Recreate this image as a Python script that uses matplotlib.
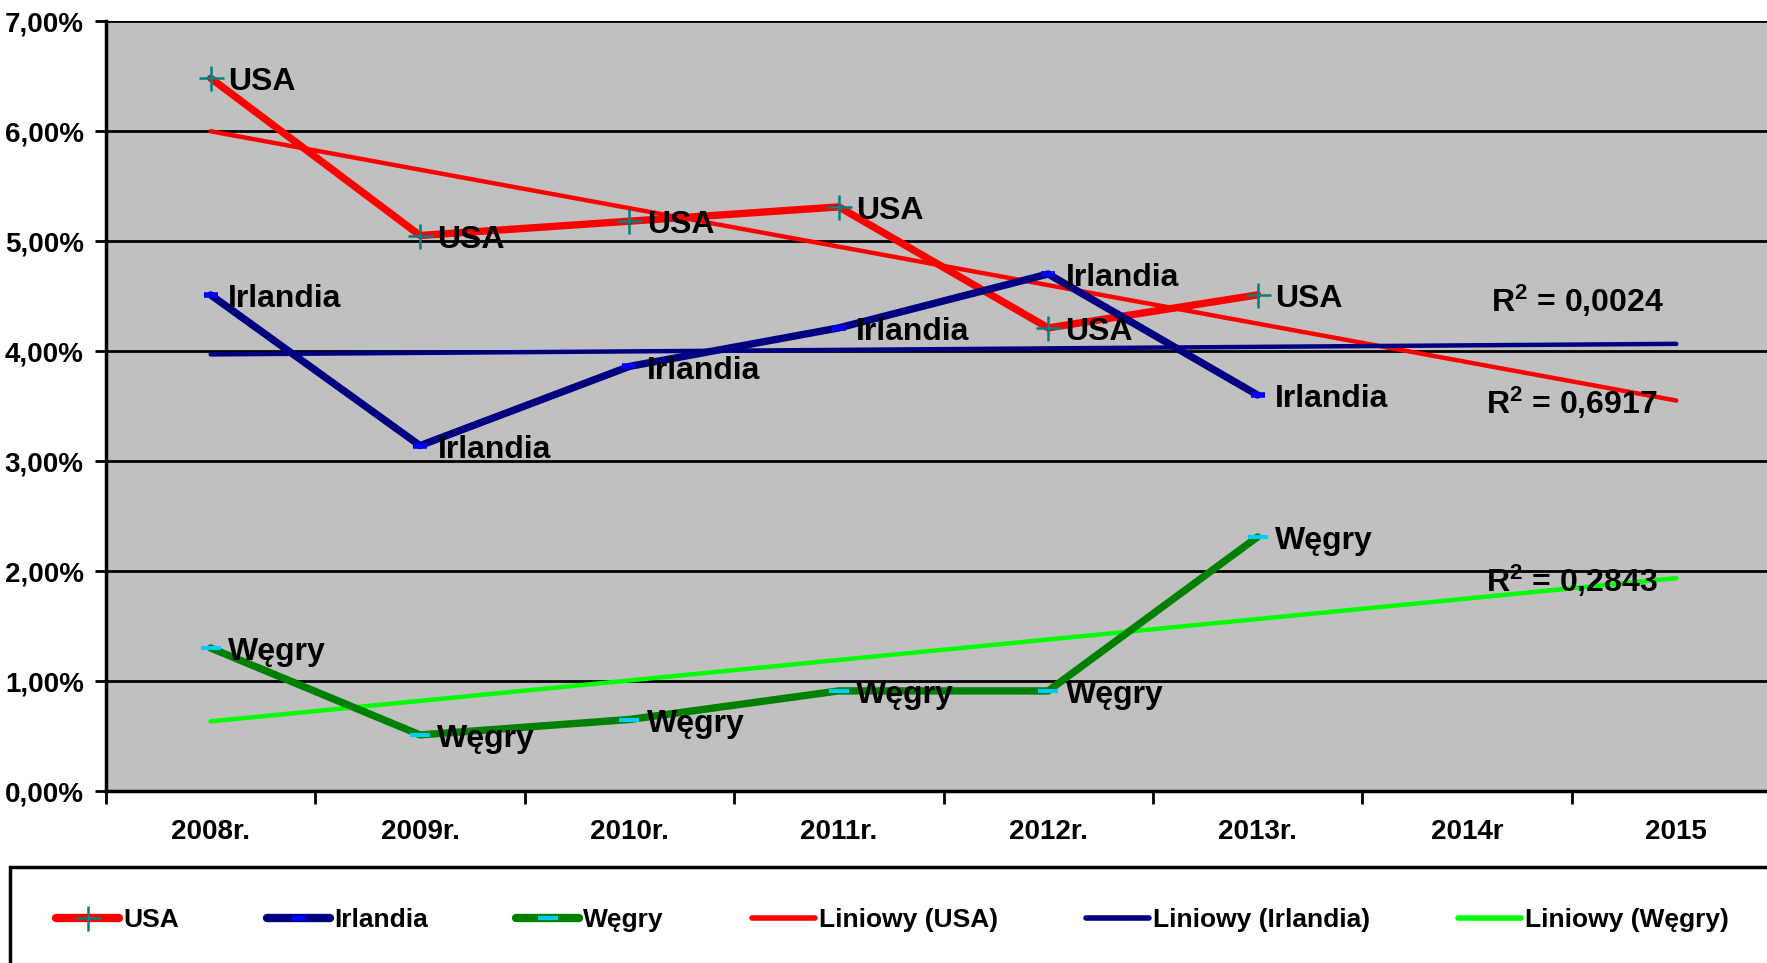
import numpy as np
import matplotlib
matplotlib.use("Agg")
import matplotlib.pyplot as plt
from matplotlib.lines import Line2D
from matplotlib.patches import Rectangle
from matplotlib.ticker import FixedLocator

plt.rcParams['font.family'] = ['Liberation Sans', 'DejaVu Sans']
plt.rcParams['font.weight'] = 'bold'
plt.rcParams['mathtext.fontset'] = 'custom'
plt.rcParams['mathtext.rm'] = 'Liberation Sans:bold'
plt.rcParams['mathtext.bf'] = 'Liberation Sans:bold'
plt.rcParams['mathtext.it'] = 'Liberation Sans:bold'

categories = ['2008r.', '2009r.', '2010r.', '2011r.', '2012r.', '2013r.', '2014r', '2015']
usa = [6.48, 5.05, 5.18, 5.31, 4.21, 4.51]
irlandia = [4.51, 3.14, 3.86, 4.21, 4.70, 3.60]
wegry = [1.30, 0.51, 0.65, 0.91, 0.91, 2.31]
r2_labels = [r'R$^{2}$ = 0,6917', r'R$^{2}$ = 0,0024', r'R$^{2}$ = 0,2843']
series_names = ['USA', 'Irlandia', 'Węgry']

W, H = 1767, 963
fig = plt.figure(figsize=(W / 100, H / 100), dpi=100)
ax = fig.add_axes([106 / W, 1 - 791 / H, (1781 - 106) / W, (791 - 21) / H])
ax.set_facecolor('#C0C0C0')

x_all = np.arange(len(categories))
x_data = np.arange(len(usa))

line_cols = ['#FF0000', '#000080', '#008000']
trend_cols = ['#FF0000', '#000080', '#00FF00']
markers = [dict(marker='+', ms=18, mew=1.8, mec='#008080', mfc='#008080'),
           dict(marker='_', ms=10, mew=4.0, mec='#0000FF', mfc='#0000FF'),
           dict(marker='_', ms=14, mew=3.0, mec='#00CCFF', mfc='#00CCFF')]
data = [usa, irlandia, wegry]

# trend lines (linear fit, Excel "Liniowy")
for vals, col in zip(data, trend_cols):
    k, b = np.polyfit(x_data, vals, 1)
    ax.plot(x_all, k * x_all + b, color=col, lw=3.2, solid_capstyle='round', zorder=3)

for vals, col, mk, name in zip(data, line_cols, markers, series_names):
    ax.plot(x_data, vals, color=col, lw=5.3, solid_capstyle='round',
            solid_joinstyle='round', zorder=4)
    ax.plot(x_data, vals, ls='none', zorder=5, **mk)
    for xi, v in zip(x_data, vals):
        ax.annotate(name, (xi, v), xytext=(12.5, -3), textcoords='offset points',
                    ha='left', va='center', fontsize=23, fontweight='bold', zorder=6)

# R^2 labels
r2_pos = [(6.09, 3.53), (6.115, 4.46), (6.09, 1.91)]
for (xp, yp), t in zip(r2_pos, r2_labels):
    ax.text(xp, yp, t, fontsize=23, fontweight='bold', ha='left', va='center', zorder=6)

ax.set_xlim(-0.5, 7.5)
ax.set_ylim(0, 7)
ax.set_yticks(np.arange(0, 8, 1))
ax.set_yticklabels([f"{v},00%" for v in range(8)], fontsize=20, fontweight='bold')
ax.set_xticks(x_all)
ax.set_xticklabels(categories, fontsize=20, fontweight='bold')
ax.xaxis.set_minor_locator(FixedLocator(np.arange(-0.5, 7.0, 1)))
ax.tick_params(axis='x', which='major', length=0, pad=20.5)
ax.tick_params(axis='x', which='minor', length=9, width=2, direction='out')
ax.tick_params(axis='y', length=8, width=2, direction='out', pad=8)
ax.grid(axis='y', color='black', lw=2)
ax.set_axisbelow(True)
for s in ['top', 'right']:
    ax.spines[s].set_visible(False)
for s in ['left', 'bottom']:
    ax.spines[s].set_linewidth(2.5)
    ax.spines[s].set_zorder(7)

# legend box
fig.patches.append(Rectangle((10 / W, -0.05), 1.0, (1 - 867 / H) + 0.05,
                             transform=fig.transFigure, fill=False,
                             edgecolor='black', lw=2.5))
handles = []
for col, mk in zip(line_cols, markers):
    handles.append(Line2D([], [], color=col, lw=6, solid_capstyle='round', **mk))
for col in trend_cols:
    handles.append(Line2D([], [], color=col, lw=4, solid_capstyle='round'))
labels = series_names + [f'Liniowy ({n})' for n in series_names]
fig.legend(handles, labels, loc='center left', bbox_to_anchor=(56 / W, 1 - 920 / H),
           ncol=6, frameon=False, handlelength=2.4, handletextpad=0.15,
           columnspacing=3.33, borderpad=0, borderaxespad=0, numpoints=1,
           prop={'weight': 'bold', 'size': 19})

fig.savefig('out.png', dpi=100)
